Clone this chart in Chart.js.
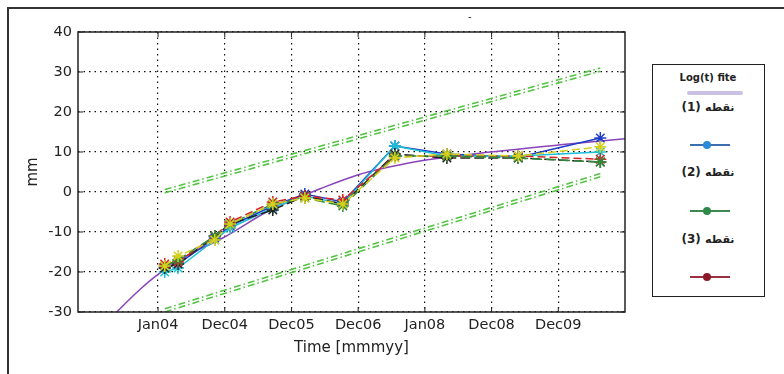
<!DOCTYPE html>
<html>
<head>
<meta charset="utf-8">
<script src="https://cdn.jsdelivr.net/npm/chart.js@4"></script>
<style>
  body { margin: 0; background: #fff; font-family: "Liberation Sans", Arial, sans-serif; }
  #wrap { position: relative; width: 784px; height: 374px; overflow: hidden; }
  #frame { position: absolute; left: 7px; top: 7px; width: 790px; height: 380px; border: 2px solid #333; box-sizing: border-box; }
  #chart { position: absolute; left: 0; top: 0; }
  .lg { position: absolute; color: #222; }
  #legend { position: absolute; left: 652px; top: 64px; width: 113px; height: 233px; border: 1.5px solid #222; box-sizing: border-box; background: #fff; }
  .txt { position: absolute; width: 112px; left: 652px; text-align: center; color: #222; font-family: "DejaVu Sans", sans-serif; font-size: 12px; font-weight: bold; direction: ltr; }
  .txt span { font-size: 11px; }
  .samp { position: absolute; left: 690px; width: 40px; height: 2px; }
  .dot { position: absolute; left: 703px; width: 8px; height: 8px; border-radius: 50%; }
</style>
</head>
<body>
<div id="wrap">
  <div id="frame"></div>
  <canvas id="chart" width="784" height="374"></canvas>
  <div class="lg" style="left:468px; top:10px; font-size:11px;">-</div>
  <div id="legend"></div>
  <div class="txt" style="top:72px; font-size:10px;">Log(t) fite</div>
  <div class="lg" style="left:687px; top:91px; width:56px; height:4px; border-radius:2px; background:#c9c0e2;"></div>
  <div class="txt" style="top:100px;">(1) <span>نقطه</span></div>
  <div class="samp" style="top:144px; background:#3c6fb0;"></div>
  <div class="dot" style="top:141px; background:#2a8ad6;"></div>
  <div class="txt" style="top:165px;">(2) <span>نقطه</span></div>
  <div class="samp" style="top:210px; background:#3c8a50;"></div>
  <div class="dot" style="top:207px; background:#2f8a4a;"></div>
  <div class="txt" style="top:232px;">(3) <span>نقطه</span></div>
  <div class="samp" style="top:276px; background:#9a3040;"></div>
  <div class="dot" style="top:273px; background:#8a1a28;"></div>
</div>
<script>
// axis ticks
const xTickValues = [2004, 2005, 2006, 2007, 2008, 2009, 2010];
const xTickLabels = ['Jan04', 'Dec04', 'Dec05', 'Dec06', 'Jan08', 'Dec08', 'Dec09'];

// acquisition dates (decimal, along the plotted axis)
const dates = [2004.10, 2004.30, 2004.85, 2005.08, 2005.72, 2006.20, 2006.77, 2007.55, 2008.33, 2009.40, 2010.63];

// displacement series (mm)
const blueVals   = [-19, -18, -11.5, -8.5, -3.5, -0.5, -2.5, 11.5, 9.5, 8.7, 13.5];
const cyanVals   = [-20, -19, -12, -9, -4, -1, -3, 11.5, 9, 9, 10];
const greenVals  = [-18.5, -17, -11, -8, -3, -1.5, -3.5, 9, 9, 8.5, 7.5];
const redVals    = [-18, -17.5, -11, -7.5, -2.5, -1, -2, 9, 9, 9, 8.2];
const blackVals  = [-19, -18, -11, -8, -4.5, -1, -3, 9.5, 8.5, 8.5, 7.5];
const yellowVals = [-18.5, -16, -12, -8, -3, -1.5, -3, 8.5, 9.5, 9, 11.3];

// log(t) fit curve
const fitX = [2003.38, 2003.7, 2004.0, 2004.48, 2004.97, 2005.68, 2005.98, 2006.43, 2006.98, 2007.48, 2007.97, 2008.98, 2010.03, 2011.0];
const fitY = [-30, -24.8, -20.6, -15.5, -11.5, -4.5, -2.3, 0.8, 4.2, 6.3, 7.9, 10, 11.8, 13.3];

// confidence bounds
const boundX  = [2004.1, 2010.63];
const upperA  = [0.6, 31];
const upperB  = [-0.2, 30.2];
const lowerA  = [-29.2, 4.6];
const lowerB  = [-30, 3.8];

function pts(xs, ys) {
    return xs.map((x, i) => ({ x: x, y: ys[i] }));
}

function serie(vals, color, dash) {
    return {
        data: pts(dates, vals),
        borderColor: color,
        backgroundColor: color,
        borderWidth: 1.5,
        borderDash: dash,
        pointStyle: 'star',
        pointRadius: 6,
        pointBorderWidth: 1.5,
        pointBorderColor: color,
        tension: 0
    };
}

function bound(ys) {
    return {
        data: pts(boundX, ys),
        borderColor: '#55c444',
        borderWidth: 1.6,
        borderDash: [7, 3, 1.5, 3],
        pointRadius: 0,
        tension: 0
    };
}

const boxPlugin = {
    id: 'box',
    afterDraw(chart) {
        const ctx = chart.ctx;
        const a = chart.chartArea;
        const xs = chart.scales.x, ys = chart.scales.y;
        ctx.save();
        ctx.strokeStyle = '#222';
        ctx.lineWidth = 1.5;
        ctx.strokeRect(a.left, a.top, a.right - a.left, a.bottom - a.top);
        ctx.lineWidth = 1;
        ctx.beginPath();
        xTickValues.forEach(v => {
            const p = xs.getPixelForValue(v);
            ctx.moveTo(p, a.bottom); ctx.lineTo(p, a.bottom - 5);
            ctx.moveTo(p, a.top); ctx.lineTo(p, a.top + 5);
        });
        ys.ticks.forEach(t => {
            const p = ys.getPixelForValue(t.value);
            ctx.moveTo(a.left, p); ctx.lineTo(a.left + 5, p);
            ctx.moveTo(a.right, p); ctx.lineTo(a.right - 5, p);
        });
        ctx.stroke();
        ctx.restore();
    }
};

const tickFont = { family: 'DejaVu Sans', size: 14.5 };

const ctx = document.getElementById('chart');
const myChart = new Chart(ctx, {
    type: 'line',
    data: {
        datasets: [
            bound(upperA), bound(upperB), bound(lowerA), bound(lowerB),
            serie(yellowVals, '#d6cf1c', [8, 4]),
            serie(greenVals, '#2f8a3c', [10, 4]),
            serie(redVals, '#d42424', [8, 4]),
            serie(blackVals, '#222222', [10, 4]),
            serie(cyanVals, '#1cc0d6', []),
            serie(blueVals, '#1f3cc8', []),
            {
                data: pts(fitX, fitY),
                borderColor: '#8a44b8',
                borderWidth: 1.5,
                pointRadius: 0,
                tension: 0.4,
                cubicInterpolationMode: 'monotone'
            }
        ]
    },
    options: {
        responsive: false,
        animation: false,
        layout: { padding: { top: 32, right: 159, left: 0, bottom: 0 } },
        plugins: {
            legend: { display: false },
            tooltip: { enabled: false }
        },
        scales: {
            x: {
                type: 'linear',
                min: 2002.8,
                max: 2011.0,
                afterBuildTicks: (scale) => {
                    scale.ticks = xTickValues.map(v => ({ value: v }));
                },
                afterFit: (scale) => { scale.height = 62; },
                ticks: {
                    callback: (v) => xTickLabels[xTickValues.indexOf(v)],
                    color: '#222',
                    padding: 5,
                    maxRotation: 0,
                    font: tickFont
                },
                grid: { color: '#111', lineWidth: 1.2, drawTicks: false },
                border: { display: false, dash: [1.5, 4] },
                title: {
                    display: true,
                    text: 'Time [mmmyy]',
                    color: '#222',
                    padding: { top: 0, bottom: 17 },
                    font: { family: 'DejaVu Sans', size: 15 }
                }
            },
            y: {
                min: -30,
                max: 40,
                afterFit: (scale) => { scale.width = 78; },
                ticks: {
                    stepSize: 10,
                    color: '#222',
                    padding: 6,
                    font: tickFont
                },
                grid: { color: '#111', lineWidth: 1.2, drawTicks: false },
                border: { display: false, dash: [1.5, 4] },
                title: {
                    display: true,
                    text: 'mm',
                    color: '#222',
                    padding: { top: 24, bottom: 0 },
                    font: { family: 'DejaVu Sans', size: 15 }
                }
            }
        }
    },
    plugins: [boxPlugin]
});
</script>
</body>
</html>
